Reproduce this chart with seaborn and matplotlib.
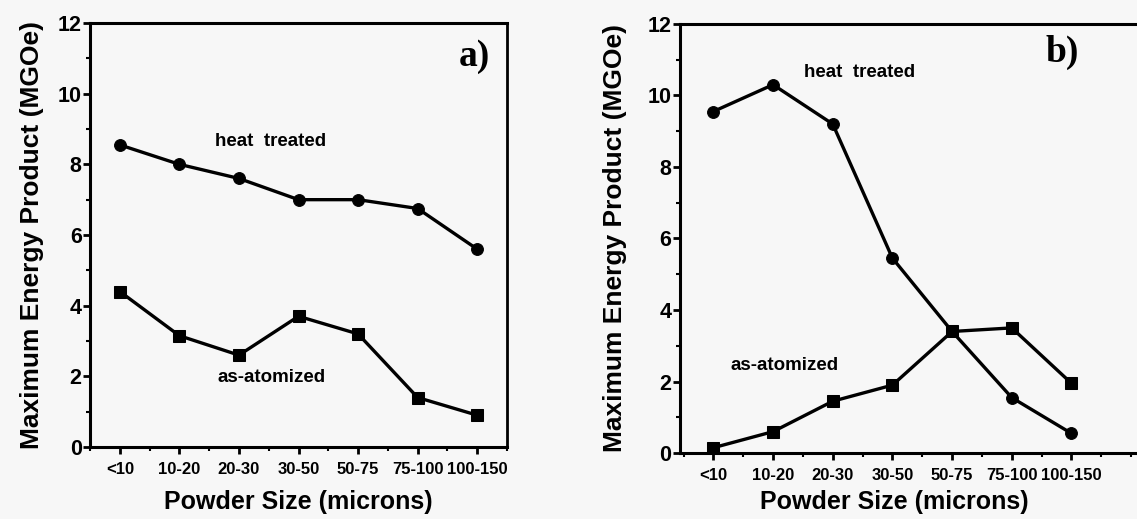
import numpy as np
import pandas as pd
import matplotlib
matplotlib.use("Agg")
import matplotlib.pyplot as plt
import seaborn as sns
from matplotlib.ticker import MultipleLocator

sns.set_theme(style="ticks")
plt.rcParams['font.family'] = ['Liberation Sans', 'DejaVu Sans']
plt.rcParams['text.color'] = 'black'
plt.rcParams['axes.labelcolor'] = 'black'
plt.rcParams['xtick.color'] = 'black'
plt.rcParams['ytick.color'] = 'black'

categories = ["<10", "10-20", "20-30", "30-50", "50-75", "75-100", "100-150"]

a_heat_treated = [8.55, 8.0, 7.6, 7.0, 7.0, 6.75, 5.6]
a_as_atomized = [4.4, 3.15, 2.6, 3.7, 3.2, 1.4, 0.9]

b_heat_treated = [9.55, 10.3, 9.2, 5.45, 3.4, 1.55, 0.55]
b_as_atomized = [0.15, 0.6, 1.45, 1.9, 3.4, 3.5, 1.95]

yticks = [0, 2, 4, 6, 8, 10, 12]
ylabel = "Maximum Energy Product (MGOe)"
xlabel = "Powder Size (microns)"

BG = "#f7f7f7"
fig = plt.figure(figsize=(11.37, 5.19), dpi=100, facecolor=BG)

ax_a = fig.add_axes([0.0792, 0.1387, 0.3667, 0.817])
ax_b = fig.add_axes([0.598, 0.127, 0.41, 0.827])

def panel(ax, heat, atom, xlim, label, heat_txt, atom_txt, lab_pos, right_spine,
          xlabelpad, ylabelpad, xlabel_x):
    ax.set_facecolor(BG)
    x = np.arange(len(categories))
    df = pd.DataFrame({"x": np.concatenate([x, x]),
                       "y": heat + atom,
                       "series": ["heat treated"] * len(x) + ["as-atomized"] * len(x)})
    sns.lineplot(data=df, x="x", y="y", style="series", markers={"heat treated": "o", "as-atomized": "s"},
                 dashes=False, color="black", linewidth=2.4, markersize=8.5, sort=False,
                 legend=False, ax=ax, markeredgecolor="black")
    ax.set_xlim(*xlim)
    ax.set_ylim(0, 12)
    ax.set_xticks(x)
    ax.set_xticklabels(categories, fontsize=12, fontweight="bold")
    ax.set_yticks(yticks)
    ax.set_yticklabels([str(v) for v in yticks], fontsize=15.5, fontweight="bold")
    ax.yaxis.set_minor_locator(MultipleLocator(1))
    ax.xaxis.set_minor_locator(MultipleLocator(0.5))
    ax.tick_params(axis="both", which="major", direction="out", length=5, width=2, color="black", pad=1)
    ax.tick_params(axis="both", which="minor", direction="out", length=3, width=1.5, color="black")
    ax.tick_params(axis="x", which="major", pad=6)
    for s in ["left", "bottom", "top"]:
        ax.spines[s].set_linewidth(2.2)
        ax.spines[s].set_color("black")
    ax.spines["right"].set_visible(right_spine)
    ax.spines["right"].set_linewidth(2.0)
    ax.spines["right"].set_color("black")
    ax.set_xlabel(xlabel, fontsize=18, fontweight="bold", labelpad=xlabelpad)
    ax.set_ylabel(ylabel, fontsize=19, fontweight="bold", labelpad=ylabelpad)
    if xlabel_x is not None:
        ax.xaxis.set_label_coords(xlabel_x, -0.085)
    ax.text(heat_txt[0], heat_txt[1], "heat  treated", fontsize=13.5, fontweight="bold",
            ha="center", va="center")
    ax.text(atom_txt[0], atom_txt[1], "as-atomized", fontsize=13.5, fontweight="bold",
            ha="center", va="center")
    ax.text(lab_pos[0], lab_pos[1], label, fontsize=27, fontweight="bold",
            family="Liberation Serif", ha="center", va="center")

panel(ax_a, a_heat_treated, a_as_atomized, (-0.5, 6.5), "a)", (2.53, 8.64), (2.55, 1.98),
      (5.95, 11.05), True, 9, 10, None)
panel(ax_b, b_heat_treated, b_as_atomized, (-0.56, 7.25), "b)", (2.45, 10.65), (1.2, 2.44),
      (5.85, 11.2), False, 2, 15, 0.459)

fig.savefig("out.png", dpi=100, facecolor=BG)
